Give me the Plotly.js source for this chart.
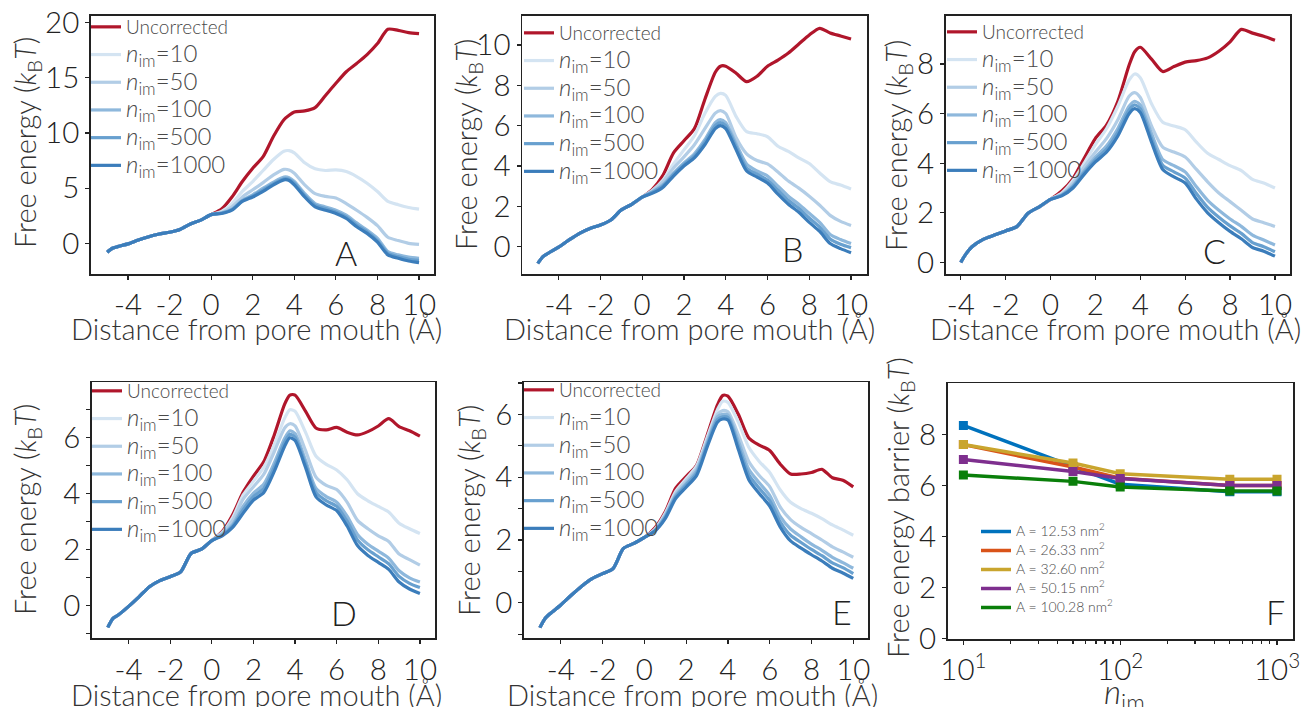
<!DOCTYPE html>
<html>
<head>
<meta charset="utf-8">
<script src="https://cdn.plot.ly/plotly-3.0.1.min.js"></script>
<style>html,body{margin:0;padding:0;background:#fff;}#chart{width:1308px;height:707px;}</style>
</head>
<body>
<div id="chart"></div>
<script>
// ---------- DATA ----------
const seriesNames = ['Uncorrected', '<i>n</i><sub>im</sub>=10', '<i>n</i><sub>im</sub>=50', '<i>n</i><sub>im</sub>=100', '<i>n</i><sub>im</sub>=500', '<i>n</i><sub>im</sub>=1000'];
const panelLabels = ['A', 'B', 'C', 'D', 'E', 'F'];
const xTitleText = 'Distance from pore mouth (Å)';
const yTitleText = 'Free energy (<i>k</i><sub>B</sub><i>T</i>)';
const fYTitleText = 'Free energy barrier (<i>k</i><sub>B</sub><i>T</i>)';
const fXTitleText = '<i>n</i><sub>im</sub>';

const xFrom5 = [-5,-4.75,-4.5,-4,-3.5,-3,-2.5,-2,-1.5,-1,-0.5,0,0.5,1,1.5,2,2.5,3,3.5,3.75,4,4.5,5,5.5,6,6.5,7,7.5,8,8.5,9,9.5,10];
const xFrom4 = [-4,-3.75,-3.5,-3,-2.5,-2,-1.5,-1,-0.5,0,0.5,1,1.5,2,2.5,3,3.5,3.75,4,4.5,5,5.5,6,6.5,7,7.5,8,8.5,9,9.5,10];

// Panel A
const A_unc  = [-0.8,-0.45,-0.3,-0.05,0.3,0.6,0.85,1.0,1.25,1.75,2.1,2.6, 3.1,4.2,5.6,6.8,7.85,9.7,11.2,11.6,11.9,12.0,12.3,13.4,14.5,15.55,16.3,17.1,18.1,19.4,19.3,19.1,19.0];
const A_10   = [-0.8,-0.45,-0.3,-0.05,0.3,0.6,0.85,1.0,1.25,1.75,2.1,2.6, 2.9,3.6,4.7,5.6,6.6,7.6,8.35,8.4,8.2,7.3,6.75,6.6,6.65,6.5,6.05,5.45,4.7,3.8,3.5,3.25,3.1];
const A_50   = [-0.8,-0.45,-0.3,-0.05,0.3,0.6,0.85,1.0,1.25,1.75,2.1,2.6, 2.8,3.3,4.2,4.85,5.5,6.2,6.7,6.65,6.35,5.3,4.5,4.25,4.1,3.6,3.0,2.35,1.6,0.55,0.25,0.0,-0.1];
const A_100  = [-0.8,-0.45,-0.3,-0.05,0.3,0.6,0.85,1.0,1.25,1.75,2.1,2.6, 2.75,3.1,3.9,4.4,5.0,5.55,6.0,5.95,5.6,4.5,3.6,3.3,3.0,2.55,1.85,1.2,0.45,-0.75,-1.05,-1.25,-1.35];
const A_500  = [-0.8,-0.45,-0.3,-0.05,0.3,0.6,0.85,1.0,1.25,1.75,2.1,2.6, 2.72,3.05,3.85,4.3,4.85,5.4,5.85,5.8,5.45,4.35,3.45,3.15,2.85,2.4,1.65,1.05,0.25,-0.9,-1.2,-1.45,-1.55];
const A_1000 = [-0.8,-0.45,-0.3,-0.05,0.3,0.6,0.85,1.0,1.25,1.75,2.1,2.6, 2.7,3.0,3.8,4.2,4.7,5.3,5.75,5.7,5.3,4.2,3.3,3.0,2.7,2.25,1.5,0.9,0.1,-1.05,-1.35,-1.6,-1.75];

// Panel B
const B_unc  = [-0.83,-0.5,-0.33,-0.03,0.33,0.66,0.9,1.07,1.32,1.82,2.1,2.45, 2.85,3.55,4.65,5.25,5.85,7.3,8.65,8.95,8.95,8.6,8.18,8.45,8.95,9.25,9.6,10.05,10.5,10.83,10.6,10.45,10.3];
const B_10   = [-0.83,-0.5,-0.33,-0.03,0.33,0.66,0.9,1.07,1.32,1.82,2.1,2.45, 2.8,3.3,4.1,4.8,5.5,6.6,7.45,7.6,7.5,6.45,5.7,5.6,5.45,4.98,4.72,4.4,4.12,3.65,3.22,3.05,2.86];
const B_50   = [-0.83,-0.5,-0.33,-0.03,0.33,0.66,0.9,1.07,1.32,1.82,2.1,2.45, 2.78,3.22,3.9,4.45,5.05,5.85,6.62,6.75,6.6,5.4,4.6,4.27,4.1,3.7,3.25,2.9,2.5,2.05,1.55,1.25,1.05];
const B_100  = [-0.83,-0.5,-0.33,-0.03,0.33,0.66,0.9,1.07,1.32,1.82,2.1,2.45, 2.72,3.08,3.65,4.15,4.6,5.3,6.15,6.3,6.15,5.1,4.1,3.75,3.5,3.0,2.5,2.1,1.65,1.2,0.6,0.35,0.15];
const B_500  = [-0.83,-0.5,-0.33,-0.03,0.33,0.66,0.9,1.07,1.32,1.82,2.1,2.45, 2.7,3.02,3.58,4.08,4.5,5.18,6.0,6.15,6.0,4.95,3.9,3.6,3.3,2.8,2.3,1.9,1.42,0.97,0.38,0.12,-0.05];
const B_1000 = [-0.83,-0.5,-0.33,-0.03,0.33,0.66,0.9,1.07,1.32,1.82,2.1,2.45, 2.65,2.95,3.5,4.0,4.4,5.05,5.85,6.0,5.85,4.8,3.75,3.45,3.15,2.6,2.1,1.7,1.2,0.75,0.15,-0.1,-0.3];

// Panel C
const C_unc  = [0.0,0.36,0.63,0.93,1.1,1.27,1.44,1.98,2.24,2.54, 2.88,3.38,4.2,5.0,5.55,6.5,7.95,8.5,8.68,8.2,7.7,7.9,8.08,8.14,8.25,8.52,8.9,9.4,9.25,9.12,8.96];
const C_10   = [0.0,0.36,0.63,0.93,1.1,1.27,1.44,1.98,2.24,2.54, 2.8,3.3,4.0,4.75,5.4,6.3,7.35,7.6,7.45,6.4,5.65,5.5,5.35,4.85,4.4,4.15,3.9,3.7,3.35,3.2,3.0];
const C_50   = [0.0,0.36,0.63,0.93,1.1,1.27,1.44,1.98,2.24,2.54, 2.75,3.2,3.85,4.45,5.0,5.75,6.7,6.85,6.65,5.5,4.65,4.45,4.25,3.75,3.25,2.8,2.45,2.1,1.75,1.6,1.45];
const C_100  = [0.0,0.36,0.63,0.93,1.1,1.27,1.44,1.98,2.24,2.54, 2.72,3.1,3.7,4.25,4.7,5.4,6.3,6.5,6.35,5.2,4.15,3.9,3.65,3.05,2.5,2.1,1.75,1.45,1.1,0.9,0.7];
const C_500  = [0.0,0.36,0.63,0.93,1.1,1.27,1.44,1.98,2.24,2.54, 2.7,3.05,3.62,4.15,4.57,5.25,6.15,6.35,6.2,5.0,3.92,3.65,3.4,2.78,2.22,1.82,1.47,1.17,0.8,0.63,0.43];
const C_1000 = [0.0,0.36,0.63,0.93,1.1,1.27,1.44,1.98,2.24,2.54, 2.68,3.0,3.55,4.05,4.45,5.1,6.0,6.2,6.05,4.85,3.75,3.45,3.2,2.55,2.0,1.6,1.25,0.95,0.6,0.45,0.25];

// Panel D
const D_unc  = [-0.77,-0.45,-0.33,-0.02,0.32,0.68,0.9,1.04,1.21,1.87,2.02,2.33, 2.65,3.25,4.05,4.63,5.15,6.1,7.2,7.52,7.52,6.95,6.35,6.28,6.37,6.2,6.1,6.22,6.42,6.68,6.4,6.25,6.06];
const D_10   = [-0.77,-0.45,-0.33,-0.02,0.32,0.68,0.9,1.04,1.21,1.87,2.02,2.33, 2.62,3.15,3.95,4.45,4.95,5.75,6.7,7.0,6.95,6.2,5.35,5.05,4.85,4.5,4.0,3.75,3.55,3.35,2.95,2.75,2.58];
const D_50   = [-0.77,-0.45,-0.33,-0.02,0.32,0.68,0.9,1.04,1.21,1.87,2.02,2.33, 2.6,3.05,3.8,4.25,4.7,5.5,6.35,6.5,6.42,5.55,4.6,4.3,4.15,3.7,3.05,2.75,2.5,2.3,1.85,1.65,1.45];
const D_100  = [-0.77,-0.45,-0.33,-0.02,0.32,0.68,0.9,1.04,1.21,1.87,2.02,2.33, 2.55,2.9,3.55,4.02,4.35,5.1,5.98,6.25,6.15,5.2,4.2,3.9,3.7,3.2,2.55,2.2,1.95,1.7,1.25,1.0,0.85];
const D_500  = [-0.77,-0.45,-0.33,-0.02,0.32,0.68,0.9,1.04,1.21,1.87,2.02,2.33, 2.52,2.85,3.42,3.9,4.2,4.95,5.85,6.12,6.02,5.07,4.05,3.75,3.55,3.02,2.35,2.0,1.75,1.5,1.05,0.8,0.65];
const D_1000 = [-0.77,-0.45,-0.33,-0.02,0.32,0.68,0.9,1.04,1.21,1.87,2.02,2.33, 2.5,2.8,3.3,3.77,4.05,4.8,5.7,6.0,5.9,4.95,3.9,3.6,3.4,2.85,2.15,1.8,1.55,1.3,0.85,0.6,0.44];

// Panel E
const E_unc  = [-0.79,-0.5,-0.34,-0.07,0.24,0.53,0.77,0.93,1.09,1.73,1.89,2.08, 2.38,2.9,3.65,4.02,4.38,5.32,6.3,6.6,6.58,6.0,5.25,5.02,4.85,4.42,4.1,4.1,4.15,4.25,3.98,3.9,3.69];
const E_10   = [-0.79,-0.5,-0.34,-0.07,0.24,0.53,0.77,0.93,1.09,1.73,1.89,2.08, 2.34,2.85,3.55,3.95,4.35,5.25,6.15,6.42,6.38,5.75,4.95,4.5,4.15,3.6,3.2,3.0,2.85,2.68,2.48,2.32,2.15];
const E_50   = [-0.79,-0.5,-0.34,-0.07,0.24,0.53,0.77,0.93,1.09,1.73,1.89,2.08, 2.32,2.8,3.48,3.88,4.27,5.15,6.0,6.12,6.08,5.35,4.5,4.05,3.7,3.05,2.65,2.4,2.2,2.0,1.78,1.62,1.45];
const E_100  = [-0.79,-0.5,-0.34,-0.07,0.24,0.53,0.77,0.93,1.09,1.73,1.89,2.08, 2.3,2.76,3.42,3.8,4.2,5.08,5.92,6.0,5.98,5.15,4.25,3.82,3.42,2.75,2.35,2.1,1.87,1.67,1.45,1.28,1.1];
const E_500  = [-0.79,-0.5,-0.34,-0.07,0.24,0.53,0.77,0.93,1.09,1.73,1.89,2.08, 2.29,2.72,3.38,3.75,4.13,5.02,5.83,5.92,5.9,5.0,4.08,3.65,3.25,2.58,2.15,1.92,1.7,1.5,1.27,1.12,0.93];
const E_1000 = [-0.79,-0.5,-0.34,-0.07,0.24,0.53,0.77,0.93,1.09,1.73,1.89,2.08, 2.28,2.68,3.32,3.68,4.05,4.95,5.75,5.85,5.82,4.88,3.92,3.48,3.08,2.42,1.97,1.74,1.53,1.33,1.1,0.95,0.78];

// Panel F
const nIm = [10, 50, 100, 500, 1000];
const areaNames = ['A = 12.53 nm<sup>2</sup>', 'A = 26.33 nm<sup>2</sup>', 'A = 32.60 nm<sup>2</sup>', 'A = 50.15 nm<sup>2</sup>', 'A = 100.28 nm<sup>2</sup>'];
const barrier12 = [8.35, 6.75, 6.05, 5.75, 5.75];
const barrier26 = [7.6, 6.72, 6.28, 6.0, 6.0];
const barrier32 = [7.6, 6.88, 6.46, 6.24, 6.24];
const barrier50 = [7.02, 6.55, 6.27, 6.0, 6.0];
const barrier100 = [6.41, 6.16, 5.94, 5.78, 5.78];

const xTickVals = [-4, -2, 0, 2, 4, 6, 8, 10];
const xTickText = ['-4', '-2', '0', '2', '4', '6', '8', '10'];
const fTickVals = [10, 100, 1000];
const fTickText = ['10<sup>1</sup>', '10<sup>2</sup>', '10<sup>3</sup>'];
const fMinorVals = [20,30,40,50,60,70,80,90,200,300,400,500,600,700,800,900];

// ---------- STYLE ----------
const W = 1308, H = 707;
const FONT = 'Lato, "Open Sans", sans-serif';
const lineColors = ['#b0162b', '#d4e4f2', '#b2cde6', '#8eb8dc', '#68a0cf', '#3b7dbb'];
const fColors = ['#0072BD', '#D95319', '#c9a52e', '#7E2F8E', '#0a7f0a'];

// panel boxes in pixels [left, right, top, bottom]
const boxes = [
  [91, 434, 16, 274], [522.3, 866.7, 16, 274], [945.7, 1290, 16, 274],
  [92, 435.3, 382.3, 638.3], [524, 868.3, 382.3, 638.3], [947.7, 1292.7, 383.3, 638.7]
];
const xRanges = [[-5.78, 10.72], [-5.74, 10.75], [-4.67, 10.67], [-5.76, 10.74], [-5.76, 10.72]];
const yRanges = [[-2.78, 20.6], [-1.36, 11.44], [-0.47, 9.94], [-1.16, 7.98], [-1.13, 7.02]];
const yDticks = [5, 2, 2, 2, 2];
const legendPos = [[86, 8], [519, 14], [942, 13], [87, 372], [519, 371], [976, 517]];
const labelPos = [[0.743, 0.085], [0.786, 0.10], [0.782, 0.093], [0.734, 0.099], [0.924, 0.103], [0.949, 0.105]];
// axis-title centres in pixels [x-title x, x-title y, y-title x, y-title y]
const titlePos = [
  [256, 328, 26, 143], [690, 328, 468, 145], [1115, 328, 897, 146],
  [256, 694, 26, 510], [692, 694, 470, 510], [1124, 693, 899, 508]
];

const panels = [
  {x: xFrom5, ys: [A_unc, A_10, A_50, A_100, A_500, A_1000]},
  {x: xFrom5, ys: [B_unc, B_10, B_50, B_100, B_500, B_1000]},
  {x: xFrom4, ys: [C_unc, C_10, C_50, C_100, C_500, C_1000]},
  {x: xFrom5, ys: [D_unc, D_10, D_50, D_100, D_500, D_1000]},
  {x: xFrom5, ys: [E_unc, E_10, E_50, E_100, E_500, E_1000]}
];

const traces = [];
const layout = {
  width: W, height: H,
  margin: {l: 0, r: 0, t: 0, b: 0},
  paper_bgcolor: '#fff', plot_bgcolor: '#fff',
  font: {family: FONT, color: '#333', weight: 300},
  annotations: []
};

function axSuffix(i) { return i === 0 ? '' : String(i + 1); }
function sized(name, px) { return '<span style="font-size:' + px + 'px">' + name + '</span>'; }

const baseAxis = {
  showline: true, mirror: true, linecolor: '#222', linewidth: 1.8,
  ticks: 'outside', ticklen: 4, tickwidth: 1.2, tickcolor: '#222',
  showgrid: false, zeroline: false,
  tickfont: {family: FONT, size: 29.5, color: '#222', weight: 300}
};
const titleFont = {family: FONT, size: 29, color: '#333', weight: 300};

function addTitles(i, xText, yText, xFontSize) {
  const t = titlePos[i];
  layout.annotations.push({
    text: xText, xref: 'paper', yref: 'paper', x: t[0] / W, y: 1 - t[1] / H,
    xanchor: 'center', yanchor: 'middle', showarrow: false,
    font: Object.assign({}, titleFont, {size: xFontSize})
  });
  layout.annotations.push({
    text: yText, xref: 'paper', yref: 'paper', x: t[2] / W, y: 1 - t[3] / H,
    xanchor: 'center', yanchor: 'middle', showarrow: false, textangle: -90,
    font: titleFont
  });
}

panels.forEach((p, i) => {
  const s = axSuffix(i);
  const legName = i === 0 ? 'legend' : 'legend' + (i + 1);
  p.ys.forEach((y, k) => {
    traces.push({
      type: 'scatter', mode: 'lines', x: p.x, y: y,
      name: k === 0 ? seriesNames[k] : sized(seriesNames[k], 24),
      xaxis: 'x' + s, yaxis: 'y' + s, legend: legName,
      line: {color: lineColors[k], width: 3.2, shape: 'spline', smoothing: 0.7},
      hoverinfo: 'skip'
    });
  });
  const b = boxes[i];
  layout['xaxis' + s] = Object.assign({}, baseAxis, {
    domain: [b[0] / W, b[1] / W], anchor: 'y' + s, range: xRanges[i],
    tickmode: 'array', tickvals: xTickVals, ticktext: xTickText
  });
  layout['yaxis' + s] = Object.assign({}, baseAxis, {
    domain: [1 - b[3] / H, 1 - b[2] / H], anchor: 'x' + s, range: yRanges[i],
    dtick: yDticks[i], tick0: 0,
    minor: (i === 3 || i === 4) ? {ticks: 'outside', ticklen: 4, dtick: 1, tickcolor: '#222'} : undefined
  });
  layout[legName] = {
    x: legendPos[i][0] / W, y: 1 - legendPos[i][1] / H, xanchor: 'left', yanchor: 'top',
    bgcolor: 'rgba(0,0,0,0)', borderwidth: 0, tracegroupgap: 0, itemwidth: 30,
    font: {family: FONT, size: 19, color: '#4a4a4a', weight: 300}
  };
  layout.annotations.push({
    text: panelLabels[i], xref: 'x' + s + ' domain', yref: 'y' + s + ' domain',
    x: labelPos[i][0], y: labelPos[i][1], xanchor: 'center', yanchor: 'middle',
    showarrow: false, font: {family: FONT, size: 34, color: '#222', weight: 300}
  });
  addTitles(i, xTitleText, yTitleText, 29);
});

// Panel F: lines (in legend) and square markers (same data)
const fSeries = [barrier12, barrier26, barrier32, barrier50, barrier100];
fSeries.forEach((y, k) => {
  traces.push({
    type: 'scatter', mode: 'lines', x: nIm, y: y, name: sized(areaNames[k], 14),
    xaxis: 'x6', yaxis: 'y6', legend: 'legend6',
    line: {color: fColors[k], width: 3.5}, hoverinfo: 'skip'
  });
  traces.push({
    type: 'scatter', mode: 'markers', x: nIm, y: y, name: areaNames[k], showlegend: false,
    xaxis: 'x6', yaxis: 'y6',
    marker: {symbol: 'square', size: 9, color: fColors[k]}, hoverinfo: 'skip'
  });
});
const bf = boxes[5];
layout.xaxis6 = Object.assign({}, baseAxis, {
  domain: [bf[0] / W, bf[1] / W], anchor: 'y6', type: 'log', range: [0.9, 3.1],
  tickmode: 'array', tickvals: fTickVals, ticktext: fTickText,
  minor: {ticks: 'outside', ticklen: 3, tickvals: fMinorVals, tickcolor: '#222'}
});
layout.yaxis6 = Object.assign({}, baseAxis, {
  domain: [1 - bf[3] / H, 1 - bf[2] / H], anchor: 'x6', range: [0, 10],
  tickmode: 'array', tickvals: [0, 2, 4, 6, 8]
});
layout.legend6 = {
  x: legendPos[5][0] / W, y: 1 - legendPos[5][1] / H, xanchor: 'left', yanchor: 'top',
  bgcolor: 'rgba(0,0,0,0)', borderwidth: 0, tracegroupgap: 0, itemwidth: 30,
  font: {family: FONT, size: 11.5, color: '#4a4a4a', weight: 300}
};
layout.annotations.push({
  text: panelLabels[5], xref: 'x6 domain', yref: 'y6 domain',
  x: labelPos[5][0], y: labelPos[5][1], xanchor: 'center', yanchor: 'middle',
  showarrow: false, font: {family: FONT, size: 34, color: '#222', weight: 300}
});
addTitles(5, fXTitleText, fYTitleText, 33);

Plotly.newPlot('chart', traces, layout, {displayModeBar: false, staticPlot: true});
</script>
</body>
</html>
